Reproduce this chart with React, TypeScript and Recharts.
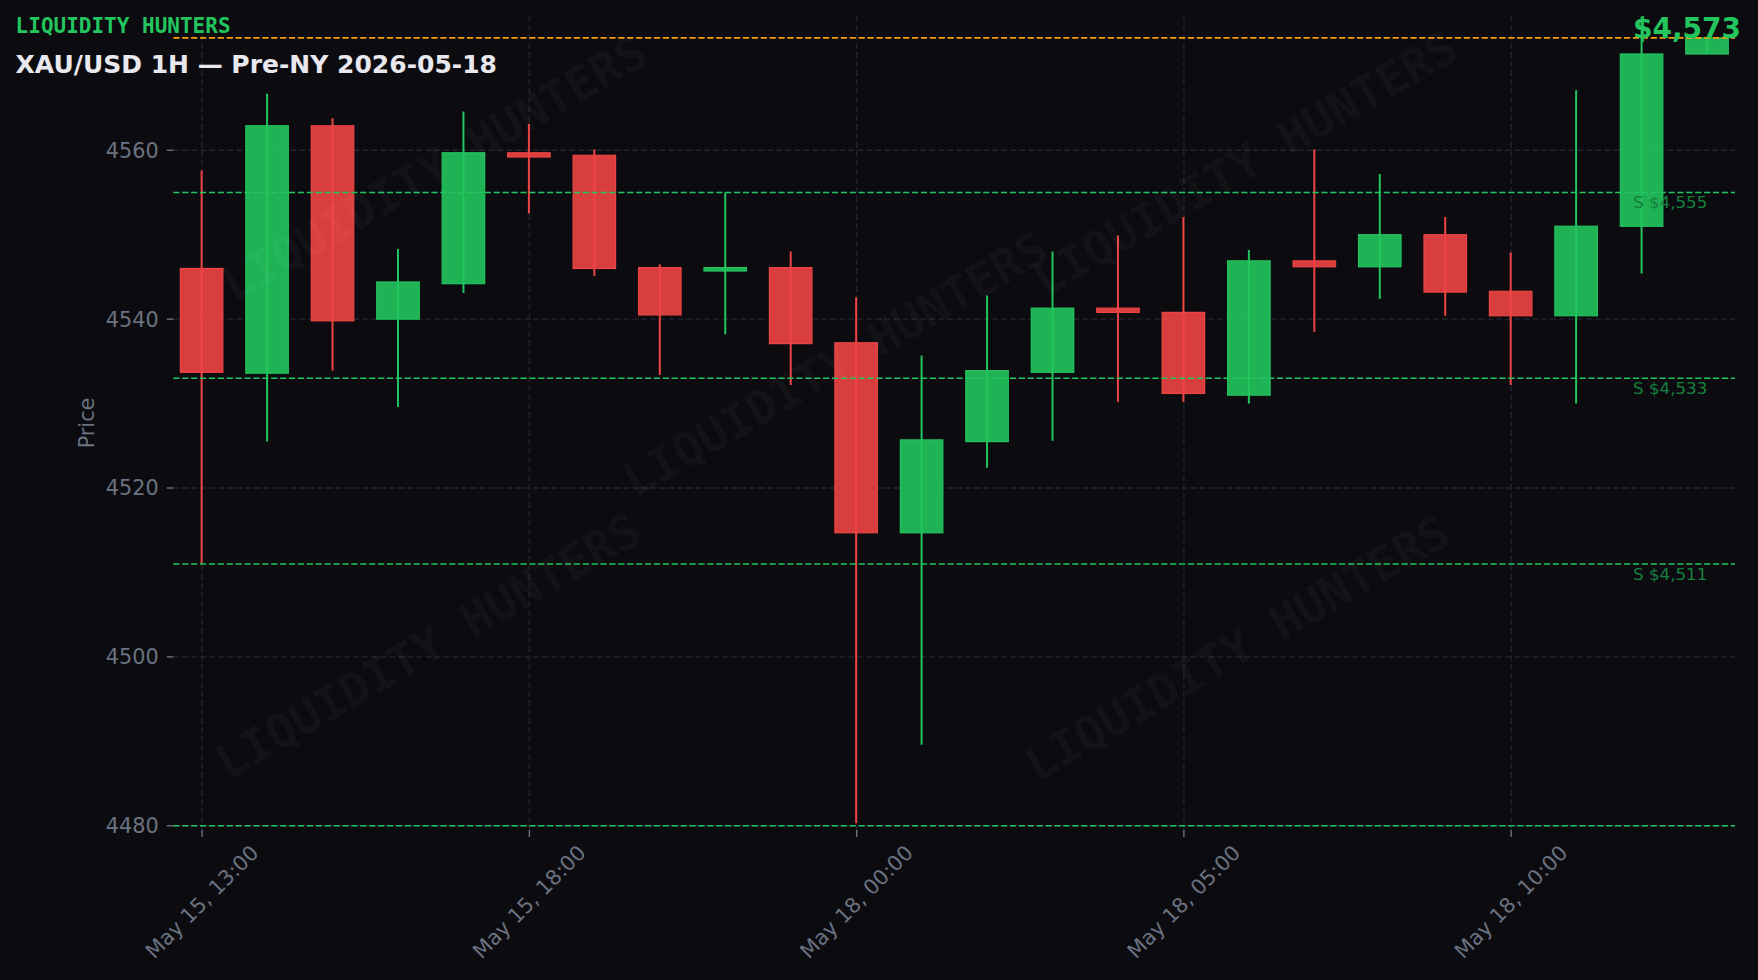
import React from 'react';
import { ComposedChart, Bar, XAxis, YAxis, CartesianGrid, ReferenceLine } from 'recharts';

// hourly candles, XAU/USD (weekend gap collapsed)
const times = [
  'May 15, 13:00', 'May 15, 14:00', 'May 15, 15:00', 'May 15, 16:00', 'May 15, 17:00',
  'May 15, 18:00', 'May 15, 19:00', 'May 15, 20:00', 'May 17, 22:00', 'May 17, 23:00',
  'May 18, 00:00', 'May 18, 01:00', 'May 18, 02:00', 'May 18, 03:00', 'May 18, 04:00',
  'May 18, 05:00', 'May 18, 06:00', 'May 18, 07:00', 'May 18, 08:00', 'May 18, 09:00',
  'May 18, 10:00', 'May 18, 11:00', 'May 18, 12:00', 'May 18, 13:00'
];
const opens = [4546.0, 4533.6, 4562.9, 4540.0, 4544.2, 4559.7, 4559.4, 4546.1, 4545.7, 4546.1, 4537.2, 4514.7, 4525.5, 4533.7, 4541.3, 4540.8, 4531.0, 4546.9, 4546.2, 4550.0, 4543.3, 4540.4, 4551.0, 4571.4];
const highs = [4557.6, 4566.7, 4563.8, 4548.3, 4564.6, 4563.1, 4560.1, 4546.5, 4555.0, 4548.0, 4542.6, 4535.7, 4542.8, 4548.0, 4549.9, 4552.1, 4548.2, 4560.1, 4557.2, 4552.1, 4547.9, 4567.1, 4575.8, 4573.4];
const lows = [4511.0, 4525.5, 4533.9, 4529.6, 4543.1, 4552.5, 4545.1, 4533.4, 4538.2, 4532.2, 4480.3, 4489.6, 4522.4, 4525.6, 4530.2, 4530.2, 4530.0, 4538.5, 4542.4, 4540.4, 4532.2, 4530.0, 4545.4, 4571.4];
const closes = [4533.7, 4562.9, 4539.8, 4544.4, 4559.7, 4559.2, 4546.0, 4540.5, 4546.1, 4537.1, 4514.7, 4525.7, 4533.9, 4541.3, 4540.8, 4531.2, 4546.9, 4546.2, 4550.0, 4543.2, 4540.4, 4551.0, 4571.4, 4573.3];

const supportLevels = [4555, 4533, 4511];
const floorLevel = 4480;
const currentPrice = 4573.3;
const yTicks = [4480, 4500, 4520, 4540, 4560];
const xTicks = [0, 5, 10, 15, 20];

const BG = '#0c0c10';
const GREEN = '#22c55e';
const RED = '#ef4444';
const ORANGE = '#f59e0b';
const GRAY = '#6b7280';
const GRID = '#24242e';
const FONT = '"DejaVu Sans", sans-serif';
const MONO = '"DejaVu Sans Mono", monospace';

const data = times.map((t, i) => ({
  i,
  t,
  o: opens[i],
  h: highs[i],
  l: lows[i],
  c: closes[i],
  range: [lows[i], highs[i]]
}));

const Candle = (props: any) => {
  const { x, y, width, height, payload } = props;
  const { o, h, l, c } = payload;
  const span = h - l || 1;
  const py = (v: number) => y + ((h - v) / span) * height;
  const color = c >= o ? GREEN : RED;
  const cx = x + width / 2;
  const top = py(Math.max(o, c));
  const bot = py(Math.min(o, c));
  return (
    <g>
      <line x1={cx} x2={cx} y1={y} y2={y + height} stroke={color} strokeWidth={2} />
      <rect
        x={x}
        y={top}
        width={width}
        height={Math.max(bot - top, 0.6)}
        fill={color}
        fillOpacity={0.9}
        stroke={color}
        strokeWidth={1.2}
      />
    </g>
  );
};

const XTick = (props: any) => {
  const { x, y, payload } = props;
  return (
    <g transform={`translate(${x},${y + 63})`}>
      <text
        transform="rotate(-45)"
        textAnchor="middle"
        dominantBaseline="central"
        fill={GRAY}
        fontSize={20.8}
        fontFamily={FONT}
      >
        {times[payload.value]}
      </text>
    </g>
  );
};

const supportLabel = (level: number) => (p: any) => {
  const vb = p.viewBox || {};
  return (
    <text
      x={vb.x + vb.width - 102}
      y={vb.y + 15.5}
      fill="#15803d"
      fontSize={16.7}
      fontFamily={FONT}
    >
      {`S $${level.toLocaleString('en-US')}`}
    </text>
  );
};

const watermarks = [
  [434, 168],
  [1245, 163],
  [835, 364],
  [428, 646],
  [1237, 648]
];

export default function App() {
  return (
    <div style={{ position: 'absolute', left: 0, top: 0, width: 1758, height: 980, background: BG, overflow: 'hidden' }}>
      <ComposedChart
        width={1758}
        height={980}
        data={data}
        margin={{ top: 16, right: 23, bottom: 0, left: 0 }}
      >
        <CartesianGrid
          stroke={GRID}
          strokeDasharray="6 3"
          strokeWidth={1.3}
          horizontalValues={yTicks}
          verticalValues={xTicks}
        />
        <XAxis
          dataKey="i"
          type="number"
          domain={[-0.44, 23.42]}
          ticks={xTicks}
          allowDataOverflow
          height={150}
          axisLine={false}
          tickLine={{ stroke: GRAY, strokeWidth: 1.4 }}
          tickSize={7}
          tick={<XTick />}
          interval={0}
        />
        <YAxis
          type="number"
          domain={[4479.5, 4575.9]}
          ticks={yTicks}
          allowDataOverflow
          width={173.3}
          axisLine={false}
          tickLine={{ stroke: GRAY, strokeWidth: 1.4 }}
          tickSize={6.5}
          tickMargin={8}
          tick={{ fill: GRAY, fontSize: 20.8, fontFamily: FONT }}
        />
        {supportLevels.map((lv) => (
          <ReferenceLine
            key={lv}
            y={lv}
            stroke={GREEN}
            strokeWidth={1.67}
            strokeDasharray="6.2 2.7"
            label={supportLabel(lv)}
          />
        ))}
        <ReferenceLine y={floorLevel} stroke={GREEN} strokeWidth={1.67} strokeDasharray="6.2 2.7" />
        <ReferenceLine y={currentPrice} stroke={ORANGE} strokeWidth={1.67} strokeDasharray="6.2 2.7" />
        <Bar dataKey="range" barSize={42.5} shape={<Candle />} isAnimationActive={false} />
      </ComposedChart>

      <svg
        width={1758}
        height={980}
        style={{ position: 'absolute', left: 0, top: 0, pointerEvents: 'none' }}
      >
        {watermarks.map(([x, y], k) => (
          <text
            key={k}
            x={x}
            y={y}
            transform={`rotate(-30 ${x} ${y})`}
            textAnchor="middle"
            dominantBaseline="central"
            fontFamily={MONO}
            fontWeight="bold"
            fontSize={47}
            fill="#ffffff"
            fillOpacity={0.04}
          >
            LIQUIDITY HUNTERS
          </text>
        ))}
        <text x={15.6} y={33.3} fill={GREEN} fontFamily={MONO} fontWeight="bold" fontSize={21}>
          LIQUIDITY HUNTERS
        </text>
        <text x={15.6} y={72.7} fill="#e8e8ee" fontFamily={FONT} fontWeight="bold" fontSize={25}>
          XAU/USD 1H — Pre-NY 2026-05-18
        </text>
        <text x={1741} y={38.3} textAnchor="end" fill={GREEN} fontFamily={FONT} fontWeight="bold" fontSize={28}>
          {`$${Math.round(currentPrice).toLocaleString('en-US')}`}
        </text>
        <text
          transform="translate(87,423) rotate(-90)"
          textAnchor="middle"
          dominantBaseline="central"
          fill={GRAY}
          fontFamily={FONT}
          fontSize={20.8}
        >
          Price
        </text>
      </svg>
    </div>
  );
}
